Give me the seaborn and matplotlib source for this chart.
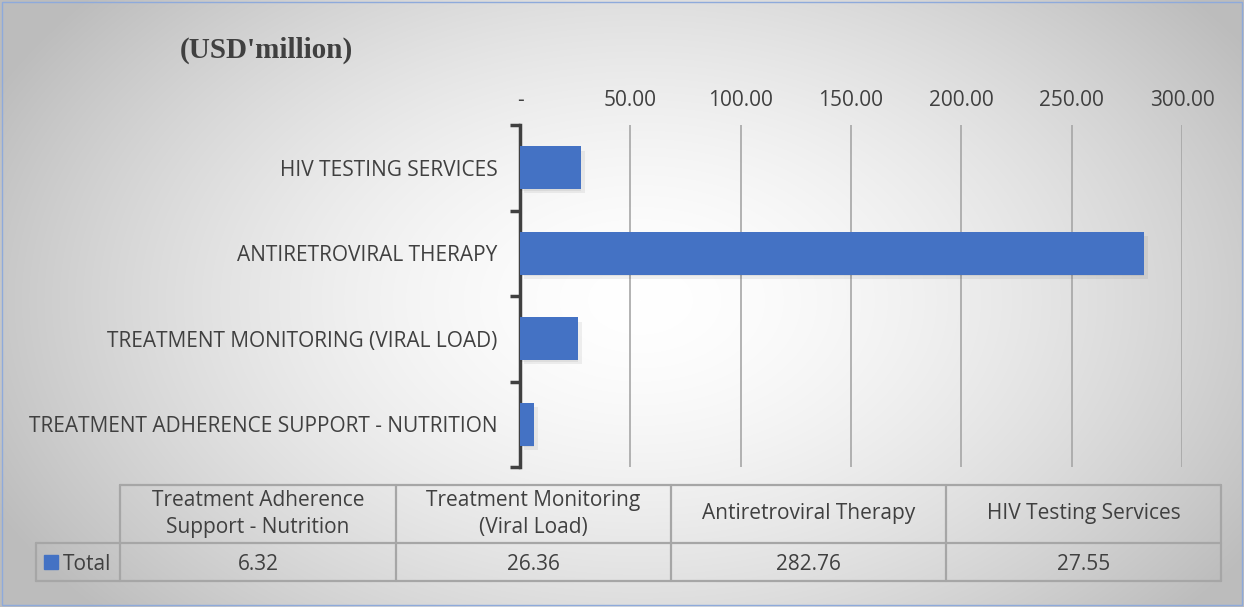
import textwrap
import numpy as np
import pandas as pd
import matplotlib
matplotlib.use('Agg')
import matplotlib.pyplot as plt
import matplotlib.patheffects as pe
from matplotlib.ticker import FixedLocator
import seaborn as sns

# Data (table order, left to right)
categories = ['Treatment Adherence Support - Nutrition',
              'Treatment Monitoring (Viral Load)',
              'Antiretroviral Therapy',
              'HIV Testing Services']
totals = [6.32, 26.36, 282.76, 27.55]
x_ticks = [0, 50, 100, 150, 200, 250, 300]
x_ticklabels = ['-', '50.00', '100.00', '150.00', '200.00', '250.00', '300.00']

sns.set_theme(style='white')
plt.rcParams['font.family'] = ['Open Sans', 'DejaVu Sans']

TXT = '#404040'
BAR = '#4472C4'
GRID = '#a6a6a6'
W, H = 1244, 607
FS = 15

fig = plt.figure(figsize=(W / 100, H / 100), dpi=100)

# Background gradient (light centre, grey edges)
bg = fig.add_axes([0, 0, 1, 1], zorder=-10)
yy, xx = np.mgrid[0:H, 0:W]
r = np.sqrt(((xx - 640) / 720.0) ** 2 + ((yy - 300) / 470.0) ** 2)
shade = 1.0 - 0.26 * np.clip(r, 0, 1) ** 1.6
bg.imshow(np.dstack([shade] * 3), extent=[0, W, H, 0], aspect='auto')
bg.set_xlim(0, W)
bg.set_ylim(H, 0)
bg.axis('off')

# Main bar chart
ax = fig.add_axes([520 / W, (H - 467) / H, (1182 - 520) / W, (467 - 125) / H])
ax.patch.set_alpha(0)
df = pd.DataFrame({'category': categories, 'total': totals})
order = categories[::-1]
sns.barplot(data=df, x='total', y='category', order=order, orient='h',
            color=BAR, saturation=1, width=0.5, linewidth=0, ax=ax, zorder=3)
for p in ax.patches:
    p.set_path_effects([pe.SimplePatchShadow(offset=(0, -1), shadow_rgbFace='#000000', alpha=0.06),
                        pe.SimplePatchShadow(offset=(3, -3), shadow_rgbFace='#000000', alpha=0.06),
                        pe.Normal()])

ax.set_xlim(0, 300)
ax.set_ylim(len(order) - 0.5, -0.5)
ax.xaxis.tick_top()
ax.set_xticks(x_ticks)
ax.set_xticklabels(x_ticklabels, fontsize=FS, color=TXT)
ax.tick_params(axis='x', length=0, pad=10)
ax.set_yticks(range(len(order)))
ax.set_yticklabels([c.upper() for c in order], fontsize=FS, color=TXT)
ax.tick_params(axis='y', which='major', length=0, pad=16)
ax.yaxis.set_minor_locator(FixedLocator(np.arange(-0.5, len(order), 1.0)))
ax.tick_params(axis='y', which='minor', left=True, length=7, width=2.5, color=TXT)
for t in x_ticks[1:]:
    ax.axvline(t, color=GRID, lw=1.2, zorder=1)
for s in ['top', 'right', 'bottom']:
    ax.spines[s].set_visible(False)
ax.spines['left'].set_color(TXT)
ax.spines['left'].set_linewidth(2.5)
ax.set_xlabel('')
ax.set_ylabel('')

# Title
fig.text(180 / W, 1 - 50 / H, "(USD'million)", family=['Liberation Serif', 'DejaVu Serif'],
         fontweight='bold', fontsize=21, color=TXT, va='center', ha='left')

# Data table
tx = fig.add_axes([0, 0, 1, 1], zorder=5)
tx.set_xlim(0, W)
tx.set_ylim(H, 0)
tx.axis('off')
col_edges = [120, 396, 671, 946, 1221]
y_top, y_mid, y_bot = 485, 543, 581
lkw = dict(color=GRID, lw=1.6)
tx.plot([col_edges[0], col_edges[-1]], [y_top, y_top], **lkw)
tx.plot([36, col_edges[-1]], [y_mid, y_mid], **lkw)
tx.plot([36, col_edges[-1]], [y_bot, y_bot], **lkw)
tx.plot([36, 36], [y_mid, y_bot], **lkw)
for xe in col_edges:
    tx.plot([xe, xe], [y_top, y_bot], **lkw)
for i, (cat, val) in enumerate(zip(categories, totals)):
    xc = (col_edges[i] + col_edges[i + 1]) / 2
    tx.text(xc, (y_top + y_mid) / 2, textwrap.fill(cat, 22), ha='center', va='center',
            fontsize=FS, color=TXT, linespacing=1.35)
    tx.text(xc, (y_mid + y_bot) / 2 + 2, f'{val:.2f}', ha='center', va='center',
            fontsize=FS, color=TXT)
tx.add_patch(plt.Rectangle((44, 555), 14, 14, color=BAR))
tx.text(63, (y_mid + y_bot) / 2 + 2, 'Total', ha='left', va='center', fontsize=FS, color=TXT)

# Outer border
tx.add_patch(plt.Rectangle((2, 2), W - 4, H - 4, fill=False, ec='#8eaadb', lw=1))

fig.savefig('out.png', dpi=100)
